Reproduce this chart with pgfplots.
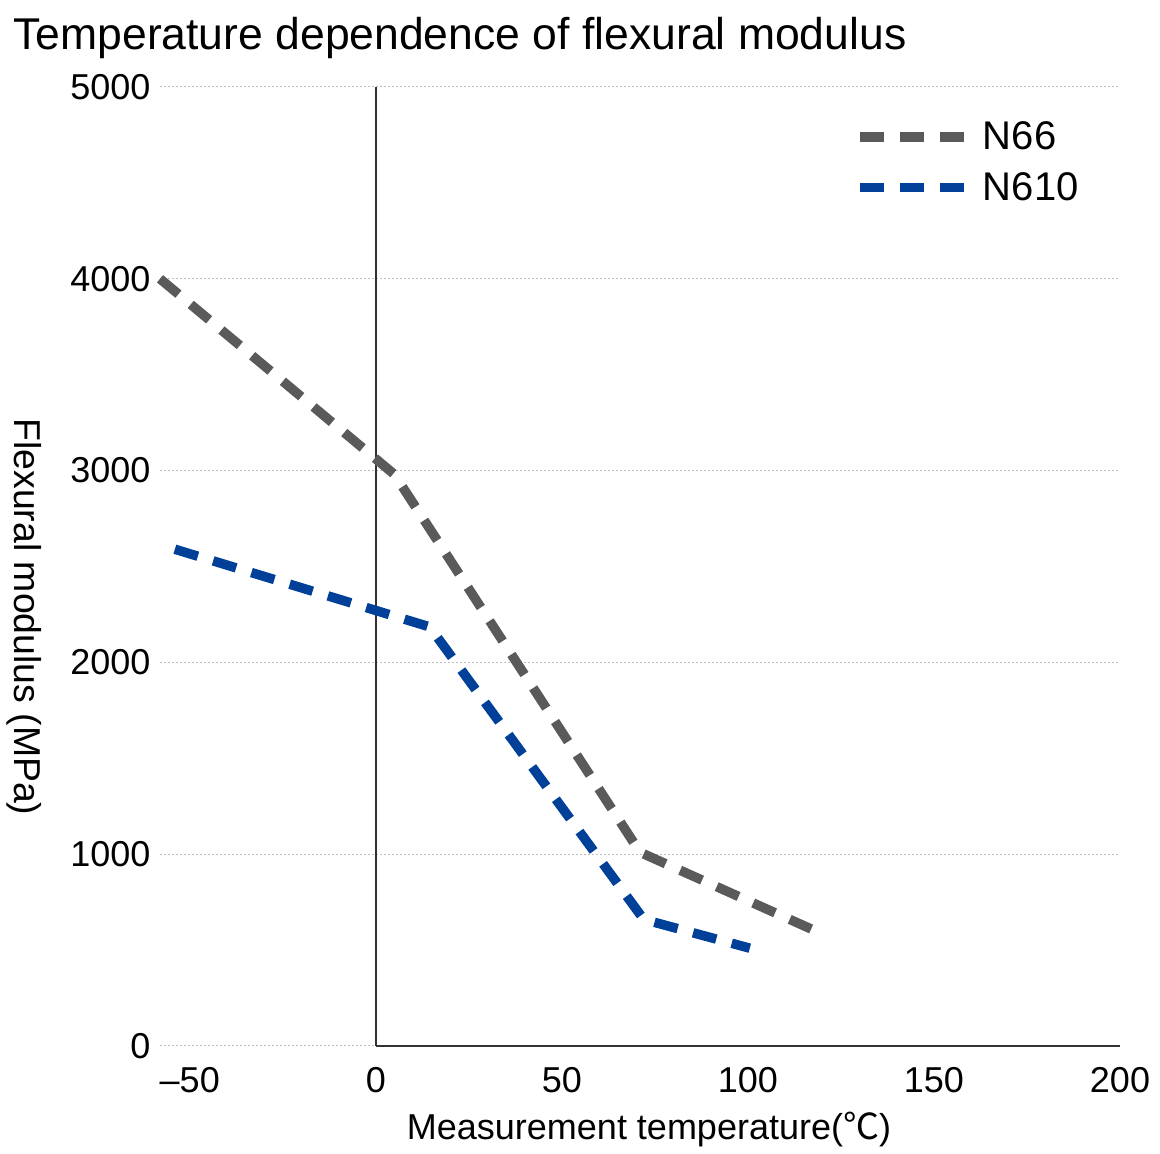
\documentclass[border=0pt]{standalone}
\usepackage{pgfplots}
\pgfplotsset{compat=1.18}
\usepackage{fontspec}
\setmainfont{Liberation Sans}
\newfontfamily\cjk{Noto Sans CJK JP}
\definecolor{gline}{RGB}{90,90,90}
\definecolor{bline}{RGB}{0,64,152}
\definecolor{gridc}{RGB}{190,190,190}
\definecolor{axc}{RGB}{50,50,50}
\begin{document}
\begin{tikzpicture}
\path[use as bounding box] (-80pt,-54pt) rectangle (500pt,523pt);
\begin{axis}[
  scale only axis,
  width=480pt, height=479.5pt,
  xmin=-58, xmax=200, ymin=0, ymax=5000,
  clip=false,
  axis line style={draw=none},
  tick style={draw=none},
  xtick={-50,0,50,100,150,200},
  xticklabels={\textendash50,0,50,100,150,200},
  ytick={0,1000,2000,3000,4000,5000},
  yticklabels={0,1000,2000,3000,4000,5000},
  ymajorgrids,
  grid style={gridc, line width=0.5pt, dash pattern=on 1pt off 1pt},
  xticklabel style={font=\fontsize{18}{20}\selectfont, anchor=north, inner sep=0pt, yshift=-10.5pt},
  yticklabel style={font=\fontsize{18}{20}\selectfont, anchor=east, inner sep=0pt, xshift=-4.6pt},
  every axis title shift=0pt,
  title={Temperature dependence of flexural modulus},
  title style={at={(axis description cs:-0.1531,1.0386)}, anchor=base west, inner sep=0pt, font=\fontsize{22.25}{26}\selectfont},
  xlabel={Measurement temperature({\cjk ℃})},
  xlabel style={at={(axis description cs:0.5094,-0.098)}, anchor=base, inner sep=0pt, font=\fontsize{18}{20}\selectfont},
  ylabel={Flexural modulus (MPa)},
  ylabel style={at={(axis description cs:-0.1417,0.4473)}, anchor=center, rotate=-180, inner sep=0pt, font=\fontsize{18.7}{20}\selectfont},
  legend style={draw=none, fill=none, at={(axis description cs:0.7240,0.9646)}, anchor=north west,
    font=\fontsize{20}{22}\selectfont, inner sep=0pt, row sep=10pt, column sep=6pt,
    nodes={inner sep=0pt}, cells={anchor=west}},
  legend image code/.code={\draw[#1] (0pt,0pt) -- (53pt,0pt);},
]
\addplot[forget plot, axc, line width=1pt] coordinates {(0,0) (0,5000)};
\addplot[forget plot, axc, line width=1pt] coordinates {(0,0) (200,0)};
\addplot[gline, line width=4.75pt, dash pattern=on 12pt off 8pt] coordinates {
(-58,4000) (5,2980) (71,1010) (117,610)};
\addlegendentry{N66}
\addplot[bline, line width=4.75pt, dash pattern=on 12pt off 8pt] coordinates {
(-54,2590) (14.5,2185) (72,660) (100.5,510)};
\addlegendentry{N610}
\end{axis}
\end{tikzpicture}
\end{document}
